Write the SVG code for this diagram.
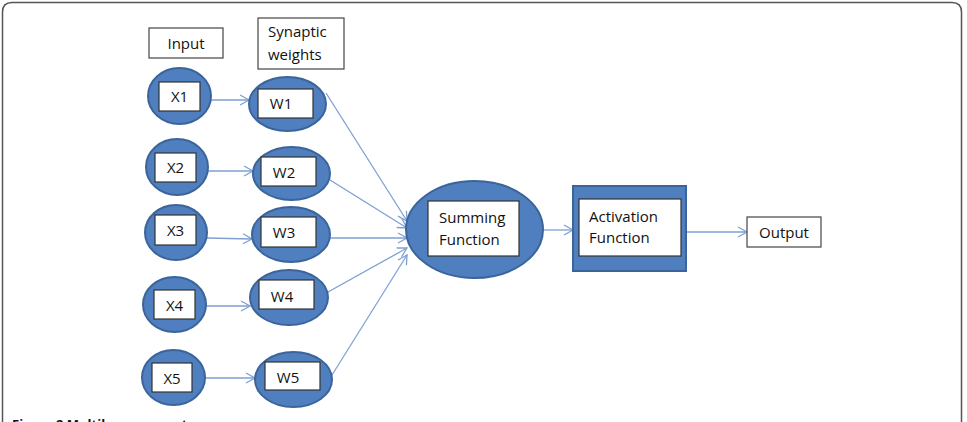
<svg xmlns="http://www.w3.org/2000/svg" width="967" height="422" viewBox="0 0 967 422">
<defs>
<style>
.ell{fill:#4f7fbf;stroke:#3b649b;stroke-width:2}
.box{fill:#ffffff;stroke:#333333;stroke-width:1.2}
.lbl{fill:#ffffff;stroke:#444444;stroke-width:1.2}
.t{font-family:"Open Sans","Liberation Sans",sans-serif;font-size:15px;fill:#111111}
.c{stroke:#7ea0d2;stroke-width:1.3;fill:none}
</style>
<marker id="ah" markerUnits="userSpaceOnUse" markerWidth="12" markerHeight="12" refX="10" refY="6" orient="auto">
<path d="M1,1 L10,6 L1,11" fill="none" stroke="#7ea0d2" stroke-width="1.3"/>
</marker>
</defs>
<rect x="0" y="0" width="967" height="422" fill="#ffffff"/>
<path d="M2.5,440 L2.5,12 Q2.5,2.5 12,2.5 L952,2.5 Q961.5,2.5 961.5,12 L961.5,440" fill="none" stroke="#555555" stroke-width="1.5"/>

<g id="input-label">
<rect class="lbl" x="149" y="28" width="74" height="30"/>
<text class="t" x="186" y="49" text-anchor="middle">Input</text>
</g>
<g id="weights-label">
<rect class="lbl" x="258" y="18" width="86" height="51"/>
<text class="t" x="268" y="37">Synaptic</text>
<text class="t" x="268" y="60">weights</text>
</g>

<g id="connectors">
<line class="c" x1="211" y1="100" x2="249" y2="100" marker-end="url(#ah)"/>
<line class="c" x1="208" y1="171" x2="253" y2="171" marker-end="url(#ah)"/>
<line class="c" x1="207" y1="238" x2="252" y2="239" marker-end="url(#ah)"/>
<line class="c" x1="206" y1="306" x2="250" y2="306" marker-end="url(#ah)"/>
<line class="c" x1="205" y1="378" x2="255" y2="378" marker-end="url(#ah)"/>
<line class="c" x1="326" y1="93" x2="407" y2="221" marker-end="url(#ah)"/>
<line class="c" x1="330" y1="180" x2="407" y2="228" marker-end="url(#ah)"/>
<line class="c" x1="330" y1="238" x2="407" y2="238" marker-end="url(#ah)"/>
<line class="c" x1="328" y1="292" x2="407" y2="248" marker-end="url(#ah)"/>
<line class="c" x1="332" y1="375" x2="407" y2="255" marker-end="url(#ah)"/>
<line class="c" x1="543" y1="230" x2="573" y2="230" marker-end="url(#ah)"/>
<line class="c" x1="686" y1="232" x2="747" y2="232" marker-end="url(#ah)"/>
</g>

<g id="x1">
<ellipse class="ell" cx="179.5" cy="96" rx="31.5" ry="28"/>
<rect class="box" x="159" y="82" width="41" height="29"/>
<text class="t" x="179.5" y="102" text-anchor="middle">X1</text>
</g>
<g id="x2">
<ellipse class="ell" cx="177" cy="167" rx="31" ry="28"/>
<rect class="box" x="155" y="153" width="41" height="29"/>
<text class="t" x="175.5" y="173" text-anchor="middle">X2</text>
</g>
<g id="x3">
<ellipse class="ell" cx="176" cy="232.5" rx="31" ry="27.5"/>
<rect class="box" x="155" y="215" width="41" height="30"/>
<text class="t" x="175.5" y="236" text-anchor="middle">X3</text>
</g>
<g id="x4">
<ellipse class="ell" cx="174.5" cy="304.5" rx="31.5" ry="27.5"/>
<rect class="box" x="154" y="290" width="41" height="29"/>
<text class="t" x="174.5" y="311" text-anchor="middle">X4</text>
</g>
<g id="x5">
<ellipse class="ell" cx="173.5" cy="377.5" rx="31.5" ry="27.5"/>
<rect class="box" x="152" y="363" width="40" height="29"/>
<text class="t" x="172" y="384" text-anchor="middle">X5</text>
</g>

<g id="w1">
<ellipse class="ell" cx="287.5" cy="104" rx="38.5" ry="27"/>
<rect class="box" x="258" y="89" width="55" height="29"/>
<text class="t" x="281" y="109" text-anchor="middle">W1</text>
</g>
<g id="w2">
<ellipse class="ell" cx="291.5" cy="173.5" rx="38.5" ry="26.5"/>
<rect class="box" x="261" y="157" width="55" height="29"/>
<text class="t" x="284" y="178" text-anchor="middle">W2</text>
</g>
<g id="w3">
<ellipse class="ell" cx="291" cy="234.5" rx="39" ry="27.5"/>
<rect class="box" x="261" y="217" width="55" height="30"/>
<text class="t" x="284" y="238" text-anchor="middle">W3</text>
</g>
<g id="w4">
<ellipse class="ell" cx="289" cy="297.5" rx="39" ry="27.5"/>
<rect class="box" x="259" y="280" width="55" height="29"/>
<text class="t" x="282" y="302" text-anchor="middle">W4</text>
</g>
<g id="w5">
<ellipse class="ell" cx="293.5" cy="379.5" rx="38.5" ry="27.5"/>
<rect class="box" x="265" y="362" width="55" height="28"/>
<text class="t" x="288" y="383" text-anchor="middle">W5</text>
</g>

<g id="summing">
<ellipse class="ell" cx="474.5" cy="229.5" rx="68.5" ry="48.5"/>
<rect class="box" x="428" y="201" width="91" height="55"/>
<text class="t" x="439" y="223">Summing</text>
<text class="t" x="439" y="245">Function</text>
</g>
<g id="activation">
<rect x="573" y="186" width="113" height="85" fill="#4f7fbf" stroke="#3b649b" stroke-width="2"/>
<rect class="box" x="579" y="199" width="102" height="57"/>
<text class="t" x="589" y="222">Activation</text>
<text class="t" x="589" y="243">Function</text>
</g>
<g id="output">
<rect class="lbl" x="747" y="217" width="74" height="30"/>
<text class="t" x="784" y="238" text-anchor="middle">Output</text>
</g>

<text x="12" y="429" font-family="'Open Sans','Liberation Sans',sans-serif" font-size="13" font-weight="bold" fill="#111111">Figure 2 Multilayer perceptron</text>
</svg>
